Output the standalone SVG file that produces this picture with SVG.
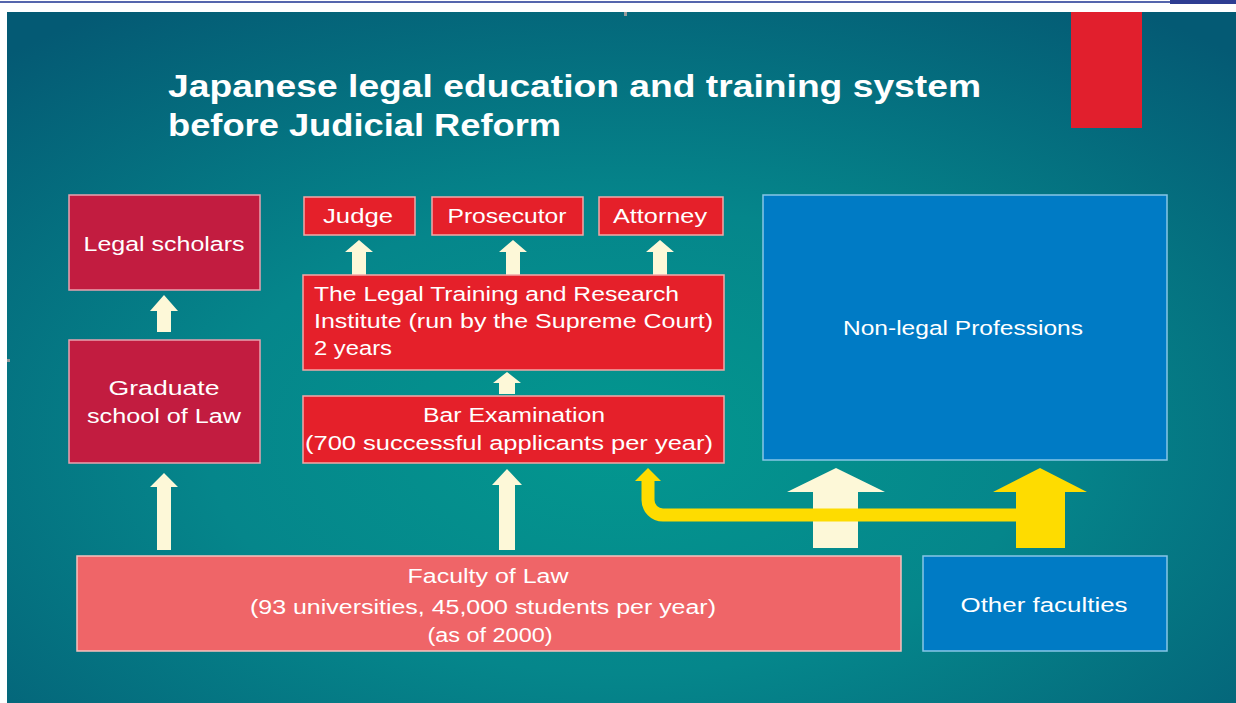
<svg xmlns="http://www.w3.org/2000/svg" width="1236" height="703" viewBox="0 0 1236 703">
<defs>
<radialGradient id="bg" cx="0.5" cy="0.62" r="0.75" fx="0.5" fy="0.62">
<stop offset="0" stop-color="#03978f"/>
<stop offset="0.45" stop-color="#05868b"/>
<stop offset="1" stop-color="#045a74"/>
</radialGradient>
<style>
text{font-family:"Liberation Sans",Arial,sans-serif;fill:#ffffff;font-size:20px}
.t{font-size:32px;font-weight:bold}
.c{text-anchor:middle}
.crim{fill:#c21c40;stroke:#e9a3b0;stroke-width:1.5}
.red{fill:#e5202a;stroke:#f2a8a8;stroke-width:1.5}
.sal{fill:#ef6568;stroke:#f6c2bf;stroke-width:1.5}
.blue{fill:#007bc5;stroke:#86c6e6;stroke-width:1.5}
.cream{fill:#fdf8d8}
.yel{fill:#fedc00}
</style>
</defs>
<rect x="0" y="0" width="1236" height="703" fill="#ffffff"/>
<rect x="0" y="1" width="1170" height="2" fill="#5565ad"/>
<rect x="1170" y="0" width="66" height="4" fill="#2e3d92"/>
<rect x="7" y="12" width="1229" height="691" fill="url(#bg)"/>
<rect x="624" y="12" width="3" height="4" fill="#9a9a9a"/>
<rect x="7" y="359" width="3" height="3" fill="#9a9a9a"/>
<rect x="1071" y="12" width="71" height="116" fill="#e11f2d"/>
<g id="title">
<text class="t" x="168" y="97" textLength="813" lengthAdjust="spacingAndGlyphs">Japanese legal education and training system</text>
<text class="t" x="168" y="136" textLength="393" lengthAdjust="spacingAndGlyphs">before Judicial Reform</text>
</g>
<g id="connectors">
<polygon class="cream" points="164,295 178,311 171,311 171,332 157,332 157,311 150,311"/>
<polygon class="cream" points="164,473 178,487 171,487 171,550 157,550 157,487 150,487"/>
<polygon class="cream" points="359,240 373,252 366,252 366,275 352,275 352,252 345,252"/>
<polygon class="cream" points="513,240 527,252 520,252 520,275 506,275 506,252 499,252"/>
<polygon class="cream" points="660,240 674,252 667,252 667,275 653,275 653,252 646,252"/>
<polygon class="cream" points="507,372 521,383 515,383 515,394 499,394 499,383 493,383"/>
<polygon class="cream" points="507,469 522,485 515,485 515,550 499,550 499,485 492,485"/>
<polygon class="cream" points="836,468 885,492 858,492 858,548 813,548 813,492 787,492"/>
<polygon class="yel" points="1040,468 1087,492 1065,492 1065,548 1016,548 1016,492 993,492"/>
<path d="M1030,515 H663 A15,15 0 0 1 648,500 V479" fill="none" stroke="#fedc00" stroke-width="13"/>
<polygon class="yel" points="648,468 661,481 635,481"/>
</g>
<g id="legal-scholars">
<rect class="crim" x="69" y="195" width="191" height="95"/>
<text class="c" x="164" y="251" textLength="161" lengthAdjust="spacingAndGlyphs">Legal scholars</text>
</g>
<g id="graduate-school">
<rect class="crim" x="69" y="340" width="191" height="123"/>
<text class="c" x="164" y="395" textLength="111" lengthAdjust="spacingAndGlyphs">Graduate</text>
<text class="c" x="164" y="423" textLength="154" lengthAdjust="spacingAndGlyphs">school of Law</text>
</g>
<g id="judge">
<rect class="red" x="304" y="197" width="111" height="38"/>
<text class="c" x="358" y="223" textLength="70" lengthAdjust="spacingAndGlyphs">Judge</text>
</g>
<g id="prosecutor">
<rect class="red" x="432" y="197" width="151" height="38"/>
<text class="c" x="507" y="223" textLength="119" lengthAdjust="spacingAndGlyphs">Prosecutor</text>
</g>
<g id="attorney">
<rect class="red" x="599" y="197" width="124" height="38"/>
<text class="c" x="660" y="223" textLength="94" lengthAdjust="spacingAndGlyphs">Attorney</text>
</g>
<g id="ltri">
<rect class="red" x="303" y="275" width="421" height="95"/>
<text x="314" y="301" textLength="365" lengthAdjust="spacingAndGlyphs">The Legal Training and Research</text>
<text x="314" y="328" textLength="399" lengthAdjust="spacingAndGlyphs">Institute (run by the Supreme Court)</text>
<text x="314" y="355" textLength="78" lengthAdjust="spacingAndGlyphs">2 years</text>
</g>
<g id="bar-exam">
<rect class="red" x="303" y="396" width="421" height="67"/>
<text class="c" x="514" y="422" textLength="182" lengthAdjust="spacingAndGlyphs">Bar Examination</text>
<text class="c" x="509" y="450" textLength="408" lengthAdjust="spacingAndGlyphs">(700 successful applicants per year)</text>
</g>
<g id="non-legal">
<rect class="blue" x="763" y="195" width="404" height="265"/>
<text class="c" x="963" y="335" textLength="240" lengthAdjust="spacingAndGlyphs">Non-legal Professions</text>
</g>
<g id="faculty-of-law">
<rect class="sal" x="77" y="556" width="824" height="95"/>
<text class="c" x="488" y="583" textLength="161" lengthAdjust="spacingAndGlyphs">Faculty of Law</text>
<text class="c" x="483" y="614" textLength="466" lengthAdjust="spacingAndGlyphs">(93 universities,  45,000 students per year)</text>
<text class="c" x="490" y="642" textLength="125" lengthAdjust="spacingAndGlyphs">(as of 2000)</text>
</g>
<g id="other-faculties">
<rect class="blue" x="923" y="556" width="244" height="95"/>
<text class="c" x="1044" y="612" textLength="167" lengthAdjust="spacingAndGlyphs">Other faculties</text>
</g>
</svg>
